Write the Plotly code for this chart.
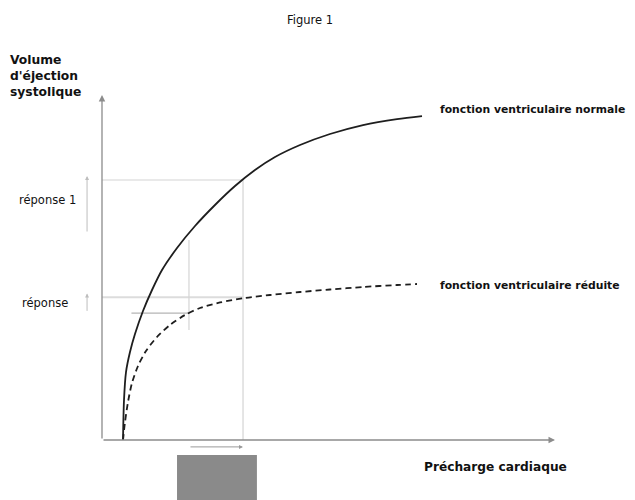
import plotly.graph_objects as go

# ---- data (arbitrary units: preload 0-100, stroke volume 0-100) ----
precharge_normale = [4.64, 4.86, 5.30, 6.18, 7.28, 9.05, 11.04, 13.25, 16.56, 20.53,
                     24.94, 29.36, 33.77, 38.19, 43.71, 50.33, 57.62, 65.12, 70.64]
vol_normale = [0.0, 11.59, 19.71, 25.51, 30.72, 37.39, 43.48, 49.28, 55.65, 62.03,
               68.12, 73.62, 78.26, 82.03, 85.51, 88.70, 91.30, 93.04, 93.91]

precharge_reduite = [4.64, 5.08, 5.74, 6.62, 7.95, 9.71, 12.14, 15.01, 18.32, 21.63,
                     26.05, 31.57, 37.09, 43.71, 50.33, 57.62, 65.12, 69.54]
vol_reduite = [0.0, 5.22, 11.01, 16.52, 21.45, 25.80, 29.86, 33.33, 36.23, 38.26,
               39.86, 41.16, 42.03, 42.90, 43.62, 44.35, 44.93, 45.22]

precharge_basse = 19.2
precharge_haute = 31.13
rep_normale = [58.0, 75.36]   # normal curve response (low, high preload)
rep_reduite = [37.4, 41.4]    # reduced curve response (low, high preload)

label_normale = "fonction ventriculaire normale"
label_reduite = "fonction ventriculaire réduite"
label_x = "Précharge cardiaque"
label_y = "Volume<br>d'éjection<br>systolique"
label_rep1 = "réponse 1"
label_rep2 = "réponse"
titre = "Figure 1"

# ---- figure ----
AX = "#8c8c8c"
GUIDE = "#d4d4d4"
INK = "#1e1e1e"
FONT = "DejaVu Sans"

fig = go.Figure()

fig.add_trace(go.Scatter(x=precharge_normale, y=vol_normale, mode="lines",
                         line=dict(color=INK, width=1.8, shape="spline", smoothing=0.8),
                         showlegend=False, hoverinfo="skip"))
fig.add_trace(go.Scatter(x=precharge_reduite, y=vol_reduite, mode="lines",
                         line=dict(color=INK, width=1.8, dash="6px,4px", shape="spline", smoothing=0.8),
                         showlegend=False, hoverinfo="skip"))

shapes = []
def seg(x0, y0, x1, y1, color=GUIDE, width=1.2):
    shapes.append(dict(type="line", xref="x", yref="y", x0=x0, y0=y0, x1=x1, y1=y1,
                       line=dict(color=color, width=width), layer="below"))

# guide lines
seg(0, rep_normale[1], precharge_haute, rep_normale[1])
seg(precharge_haute, rep_normale[1], precharge_haute, 0)
seg(0, rep_reduite[1], precharge_haute, rep_reduite[1], color="#dcdcdc", width=2)
seg(6.5, rep_reduite[0] - 0.6, precharge_basse, rep_reduite[0] - 0.6, color="#b4b4b4")
seg(precharge_basse, rep_normale[0], precharge_basse, rep_reduite[0] - 5.5)

# gray box under the preload range
shapes.append(dict(type="rect", xref="x", yref="y", x0=16.56, x1=34.2, y0=-4.35, y1=-18,
                   fillcolor="#8a8a8a", line=dict(width=0), layer="below"))

fig.update_layout(shapes=shapes)

ann = []
def arrow(x0, y0, x1, y1, color=AX, width=1.3, size=1.0):
    ann.append(dict(x=x1, y=y1, ax=x0, ay=y0, xref="x", yref="y", axref="x", ayref="y",
                    showarrow=True, arrowhead=2, arrowsize=size, arrowwidth=width,
                    arrowcolor=color, text=""))

# axes
arrow(0, 0, 0, 100)
arrow(0, 0, 100, 0)
# response arrows on the left
arrow(-3.3, 60.0, -3.3, 76.5, color="#bdbdbd", width=1, size=0.8)
arrow(-3.3, 37.0, -3.3, 42.5, color="#bdbdbd", width=1, size=0.8)
# preload change arrow
arrow(precharge_basse, -2.0, precharge_haute, -2.0, color="#9a9a9a", width=1, size=0.8)

def txt(x, y, t, size=11, bold=True, xanchor="left", align="left", ref="x"):
    ann.append(dict(x=x, y=y, xref=ref, yref=("paper" if ref == "paper" else "y"),
                    text=(f"<b>{t}</b>" if bold else t),
                    showarrow=False, xanchor=xanchor, yanchor="middle", align=align,
                    font=dict(family=FONT, size=size, color="#111")))

txt(74.2, 95.7, label_normale, size=10.8)
txt(74.2, 44.9, label_reduite, size=10.8)
txt(70.6, -7.8, label_x, size=12.2)
txt(0.0, 0.862, label_y, size=12.3, ref="paper")
txt(-5.3, 69.6, label_rep1, size=11.5, bold=False, xanchor="right")
txt(-7.0, 39.7, label_rep2, size=11.5, bold=False, xanchor="right")
txt(45.9, 121.7, titre, size=11.5, bold=False, xanchor="center")

# page body has an 8px margin: figure is 8px smaller and ranges are set accordingly
fig.update_layout(
    annotations=ann,
    width=627, height=492,
    margin=dict(l=0, r=0, t=0, b=0),
    paper_bgcolor="white", plot_bgcolor="white",
    xaxis=dict(range=[-20.75, 117.66], visible=False, fixedrange=True),
    yaxis=dict(range=[-17.39, 125.22], visible=False, fixedrange=True),
)

fig.write_html("out.html")
